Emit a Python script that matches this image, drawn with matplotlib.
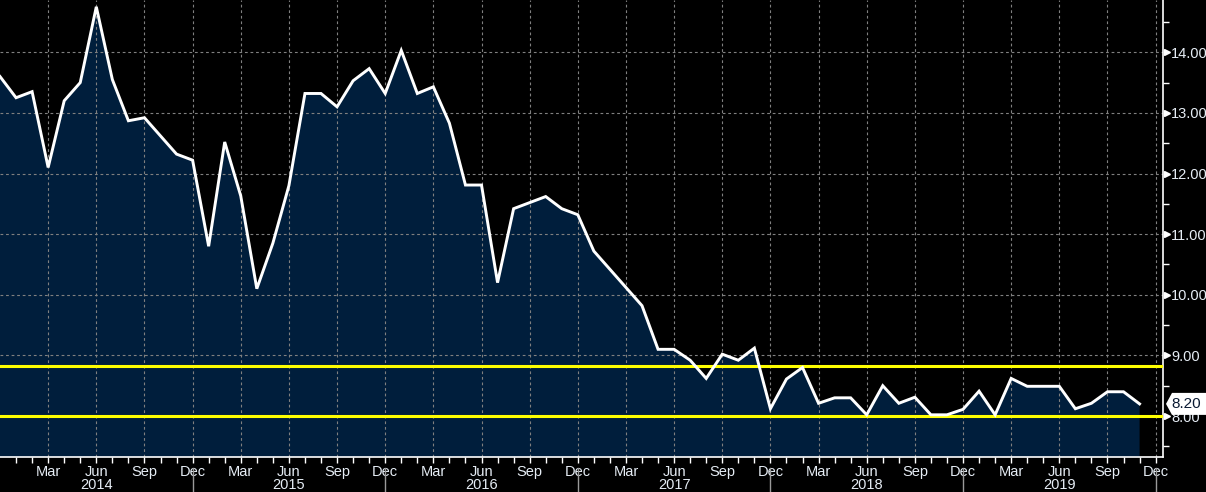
import numpy as np
import matplotlib
matplotlib.use('Agg')
from matplotlib import pyplot as plt
from matplotlib.patches import Polygon

# monthly values, Dec 2013 .. Nov 2019
values = [13.6,
          13.25, 13.35, 12.1, 13.2, 13.5, 14.75, 13.55, 12.87, 12.92, 12.62, 12.32, 12.22,
          10.8, 12.52, 11.63, 10.1, 10.85, 11.8, 13.32, 13.32, 13.1, 13.53, 13.73, 13.32,
          14.03, 13.32, 13.43, 12.83, 11.81, 11.81, 10.2, 11.42, 11.52, 11.62, 11.42, 11.32,
          10.72, 10.42, 10.12, 9.82, 9.1, 9.1, 8.92, 8.62, 9.02, 8.92, 9.12, 8.12,
          8.61, 8.8, 8.21, 8.3, 8.3, 8.02, 8.5, 8.21, 8.31, 8.02, 8.02, 8.11,
          8.41, 8.02, 8.62, 8.49, 8.49, 8.49, 8.12, 8.21, 8.4, 8.4, 8.2]
years = [2014, 2015, 2016, 2017, 2018, 2019]
month_names = ['Mar', 'Jun', 'Sep', 'Dec']
band = [8.0, 8.83]
last_label = '8.20'

plt.rcParams['font.family'] = ['Liberation Sans', 'DejaVu Sans']

x = np.arange(len(values))  # 0 = Dec 2013
BG = 'black'
FILL = '#001e3c'
TXT = '#e6edf5'
GRID = '#808080'
FS = 10.5

fig = plt.figure(figsize=(12.06, 4.92), dpi=100, facecolor=BG)
ax = fig.add_axes([0, 35 / 492, 1163 / 1206, 457 / 492])
ax.set_facecolor(BG)

ax.fill_between(x, values, 0, color=FILL, zorder=1, linewidth=0)
ax.plot(x, values, color='white', lw=2.1, zorder=4, solid_joinstyle='miter')
for b in band:
    ax.axhline(b, color='#ffff00', lw=2.2, zorder=3)

ax.set_xlim(0, 72.46)
ax.set_ylim(7.324, 14.862)

# grid
for v in range(9, 15):
    ax.axhline(v, color=GRID, lw=0.8, ls=(0, (2.5, 2.5)), zorder=2)
for m in range(3, 73, 3):
    ax.axvline(m, color=GRID, lw=0.8, ls=(0, (2.5, 2.5)), zorder=2)

# spines
for s in ['top', 'left']:
    ax.spines[s].set_visible(False)
for s in ['right', 'bottom']:
    ax.spines[s].set_color('white')
    ax.spines[s].set_linewidth(1.2)

# right axis
ax.yaxis.tick_right()
ax.set_yticks(range(8, 15))
ax.set_yticklabels(['%.2f' % v for v in range(8, 15)])
ax.set_yticks(np.arange(7.5, 15, 1.0), minor=True)
ax.tick_params(axis='y', which='major', length=0, pad=6, labelsize=FS, labelcolor=TXT)
ax.tick_params(axis='y', which='minor', length=4, width=1, color='white', direction='out')
ytr = ax.get_yaxis_transform()
ax.plot([1.0 + 4 / 1163] * 7, range(8, 15), marker='>', ms=5, color='white', ls='none',
        transform=ytr, clip_on=False, zorder=5)

# bottom axis
ax.set_xticks(range(3, 73, 3))
ax.set_xticklabels(month_names * 6)
ax.set_xticks(range(1, 73), minor=True)
ax.tick_params(axis='x', which='both', length=4, width=1, color='white', direction='out',
               labelsize=FS, labelcolor=TXT, pad=2)

xtr = ax.get_xaxis_transform()
for i, yr in enumerate(years):
    ax.text(6 + 12 * i, -0.062, str(yr), transform=xtr, ha='center', va='center',
            color=TXT, fontsize=FS, clip_on=False)
for m in range(12, 73, 12):
    ax.plot([m, m], [-0.025, -0.08], transform=xtr, color='#9a9a9a', lw=1, clip_on=False)

# last value tag
h = 11 / 60.62
tag = Polygon([[1 + 3 / 1163, 8.2], [1 + 9 / 1163, 8.2 + h], [1 + 46 / 1163, 8.2 + h],
               [1 + 46 / 1163, 8.2 - h], [1 + 9 / 1163, 8.2 - h]],
              closed=True, transform=ytr, facecolor='white', edgecolor='none',
              clip_on=False, zorder=6)
ax.add_patch(tag)
ax.text(1 + 23 / 1163, 8.2, last_label, transform=ytr, ha='center', va='center',
        color='#0a1a33', fontsize=11, clip_on=False, zorder=7)

plt.savefig('out.png', dpi=100, facecolor=BG)
